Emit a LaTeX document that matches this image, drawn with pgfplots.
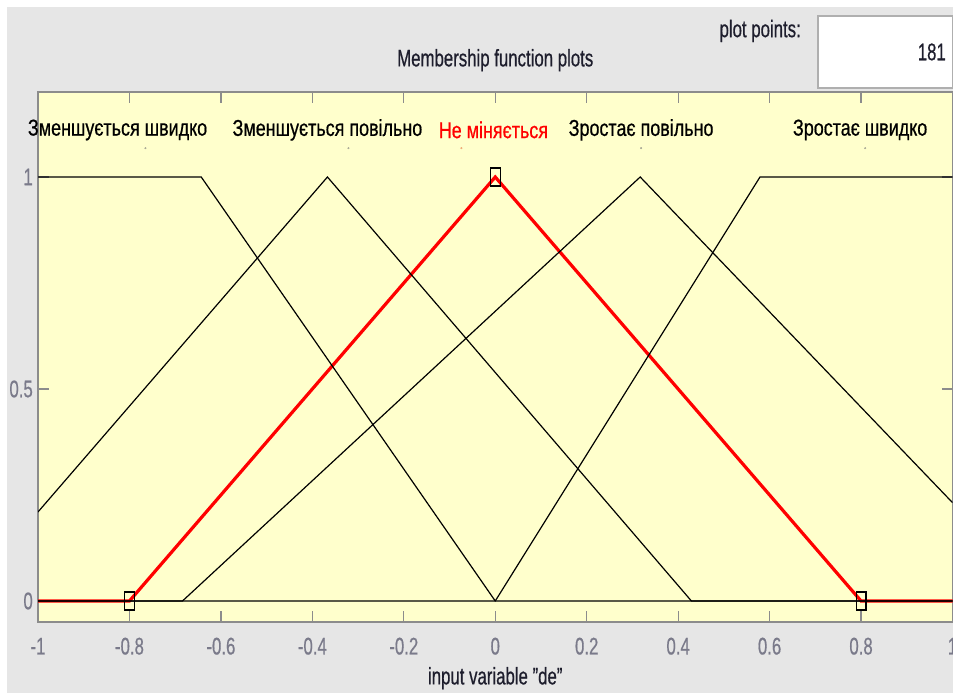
\documentclass[border=0pt]{standalone}
\usepackage{pgfplots}
\pgfplotsset{compat=1.18}
\usepackage{fontspec}
\setmainfont{Liberation Sans}[FakeStretch=0.70, FakeBold=0.5]
\newfontfamily\lblfam{Liberation Sans}[FakeStretch=0.78, FakeBold=0.6]
\definecolor{figbg}{RGB}{230,230,230}
\definecolor{axbg}{RGB}{255,255,204}
\definecolor{tickgray}{RGB}{122,122,138}
\definecolor{framegray}{RGB}{140,140,140}
\definecolor{boxgray}{RGB}{175,175,175}
\definecolor{txtdark}{RGB}{30,30,45}
\newcommand{\uif}{\fontsize{24}{28}\selectfont}
\newcommand{\lblf}{\lblfam\fontsize{23}{27}\selectfont}
\begin{document}
\begin{tikzpicture}[x=1pt,y=1pt]
\useasboundingbox (0,0) rectangle (953,693);
\fill[white] (0,0) rectangle (953,693);
\fill[figbg] (7,0) rectangle (953,686);
\draw[line width=1.5pt, draw=boxgray, fill=white] (818,605) rectangle (952.5,677);
\node[anchor=east, font=\uif, text=txtdark, inner sep=0pt] at (946,641) {181};
\node[anchor=east, font=\uif, text=txtdark, inner sep=0pt] at (801,662) {plot points:};
\begin{axis}[
  at={(38pt,70.8pt)}, anchor=south west,
  scale only axis, width=914.5pt, height=530pt,
  xmin=-1, xmax=1, ymin=-0.05, ymax=1.2,
  axis background/.style={fill=axbg},
  axis line style={framegray, line width=1.5pt},
  tick style={framegray, line width=1.2pt},
  major tick length=11pt,
  xtick={-1,-0.8,-0.6,-0.4,-0.2,0,0.2,0.4,0.6,0.8,1},
  xticklabels={-1,-0.8,-0.6,-0.4,-0.2,0,0.2,0.4,0.6,0.8,1},
  ytick={0,0.5,1},
  yticklabels={0,0.5,1},
  /pgf/number format/assume math mode=true,
  xticklabel style={font=\uif, text=tickgray, anchor=center, inner sep=0pt, yshift=-24pt},
  yticklabel style={font=\uif, text=tickgray, anchor=east, inner sep=0pt, xshift=-5pt},
  title={Membership function plots},
  title style={font=\uif, text=txtdark, at={(axis description cs:0.5,1)}, anchor=center, yshift=26pt},
  xlabel={input variable "de"},
  xlabel style={font=\uif, text=txtdark, at={(axis description cs:0.5,0)}, anchor=center, yshift=-56pt},
  clip mode=individual,
]
% selected MF (red)
\addplot[red, line width=3.2pt] coordinates {(-1,0) (-0.8,0) (0,1) (0.8,0) (1,0)};
% other MFs
\addplot[black, line width=1.2pt] coordinates {(-1,1) (-0.643,1) (0,0) (1,0)};
\addplot[black, line width=1.2pt] coordinates {(-1,0.21) (-0.367,1) (0.429,0) (1,0)};
\addplot[black, line width=1.2pt] coordinates {(-1,0) (-0.684,0) (0.317,1) (1,0.232)};
\addplot[black, line width=1.2pt] coordinates {(-1,0) (0,0) (0.579,1) (1,1)};
% vertex markers of the selected MF
\addplot[only marks, mark=square, mark size=9pt, mark options={xscale=0.55, draw=black, line width=1.2pt, fill=none}] coordinates {(-0.8,0) (0,1) (0.8,0)};
% small text anchor dots
\addplot[only marks, mark=*, mark size=0.8pt, color={rgb,255:red,170;green,170;blue,150}] coordinates {(-0.765,1.068) (-0.321,1.068) (0.319,1.068) (0.809,1.068)};
\addplot[only marks, mark=*, mark size=0.8pt, color={rgb,255:red,240;green,170;blue,120}] coordinates {(-0.074,1.068)};
% MF labels
\node[font=\lblf, text=black] at (axis cs:-0.826,1.111) {Зменшується швидко};
\node[font=\lblf, text=black] at (axis cs:-0.367,1.111) {Зменшується повільно};
\node[font=\lblf, text=red] at (axis cs:-0.004,1.111) {Не міняється};
\node[font=\lblf, text=black] at (axis cs:0.319,1.111) {Зростає повільно};
\node[font=\lblf, text=black] at (axis cs:0.798,1.111) {Зростає швидко};
\end{axis}
\end{tikzpicture}
\end{document}
